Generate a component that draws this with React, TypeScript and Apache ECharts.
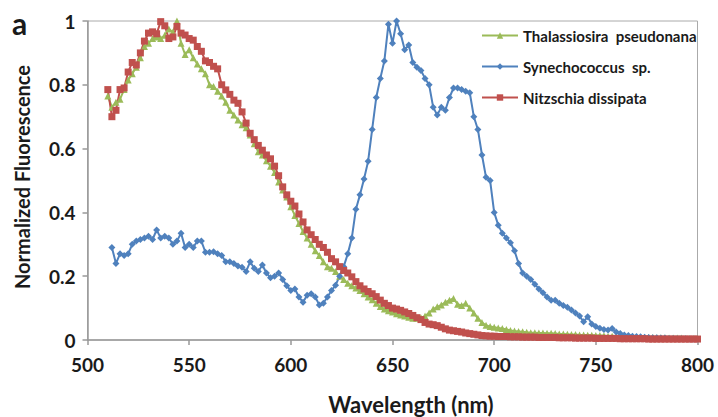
import React, { useEffect, useRef } from "react";
import * as echarts from "echarts";

const WL_FULL = [
  510, 512, 514, 516, 518, 520, 522, 524, 526, 528, 530, 532, 534, 536, 538, 540, 542, 544, 546, 548,
  550, 552, 554, 556, 558, 560, 562, 564, 566, 568, 570, 572, 574, 576, 578, 580, 582, 584, 586, 588,
  590, 592, 594, 596, 598, 600, 602, 604, 606, 608, 610, 612, 614, 616, 618, 620, 622, 624, 626, 628,
  630, 632, 634, 636, 638, 640, 642, 644, 646, 648, 650, 652, 654, 656, 658, 660, 662, 664, 666, 668,
  670, 672, 674, 676, 678, 680, 682, 684, 686, 688, 690, 692, 694, 696, 698, 700, 702, 704, 706, 708,
  710, 712, 714, 716, 718, 720, 722, 724, 726, 728, 730, 732, 734, 736, 738, 740, 742, 744, 746, 748,
  750, 752, 754, 756, 758, 760, 762, 764, 766, 768, 770, 772, 774, 776, 778, 780, 782, 784, 786, 788,
  790, 792, 794, 796, 798, 800,
];

const WL_SYN = [
  512, 514, 516, 518, 520, 522, 524, 526, 528, 530, 532, 534, 536, 538, 540, 542, 544, 546, 548,
  550, 552, 554, 556, 558, 560, 562, 564, 566, 568, 570, 572, 574, 576, 578, 580, 582, 584, 586, 588,
  590, 592, 594, 596, 598, 600, 602, 604, 606, 608, 610, 612, 614, 616, 618, 620, 622, 624, 626, 628,
  630, 632, 634, 636, 638, 640, 642, 644, 646, 648, 650, 652, 654, 656, 658, 660, 662, 664, 666, 668,
  670, 672, 674, 676, 678, 680, 682, 684, 686, 688, 690, 692, 694, 696, 698, 700, 702, 704, 706, 708,
  710, 712, 714, 716, 718, 720, 722, 724, 726, 728, 730, 732, 734, 736, 738, 740, 742, 744, 746, 748,
  750, 752, 754, 756, 758, 760, 762, 764, 766, 768, 770, 772, 774, 776, 778, 780, 782, 784, 786, 788,
  790, 792, 794, 796, 798, 800,
];

const THALASSIOSIRA = [
  0.765, 0.73, 0.745, 0.755, 0.785, 0.815, 0.835, 0.855, 0.885, 0.92,
  0.93, 0.945, 0.95, 0.945, 0.955, 0.975, 0.965, 1.0, 0.93, 0.895,
  0.91, 0.885, 0.865, 0.85, 0.835, 0.8, 0.795, 0.78, 0.765, 0.745,
  0.72, 0.705, 0.69, 0.675, 0.665, 0.643, 0.615, 0.59, 0.58, 0.562,
  0.545, 0.525, 0.495, 0.47, 0.448, 0.418,
  0.39, 0.365, 0.34, 0.32, 0.3, 0.28, 0.265, 0.245, 0.23, 0.225,
  0.215, 0.2, 0.19, 0.178, 0.17, 0.163, 0.155, 0.145, 0.135, 0.126,
  0.115, 0.105, 0.097, 0.092, 0.088, 0.082, 0.078, 0.075, 0.071, 0.068,
  0.068, 0.07, 0.075, 0.085, 0.097, 0.104, 0.11, 0.118, 0.125, 0.13,
  0.112, 0.108, 0.115, 0.1, 0.085, 0.068, 0.055, 0.046, 0.042, 0.04,
  0.038, 0.036, 0.033, 0.03, 0.028, 0.027, 0.026, 0.024, 0.023, 0.023,
  0.022, 0.022, 0.021, 0.021, 0.02, 0.019, 0.019, 0.018, 0.017, 0.017,
  0.016, 0.016, 0.015, 0.015, 0.014, 0.014, 0.013, 0.012, 0.012, 0.011,
  0.011, 0.01, 0.01, 0.009, 0.009, 0.009, 0.008, 0.008, 0.008, 0.007,
  0.007, 0.007, 0.006, 0.006, 0.006, 0.006, 0.005, 0.005, 0.005, 0.005,
];

const SYNECHOCOCCUS = [
  0.29, 0.24, 0.27, 0.265, 0.27, 0.3, 0.31, 0.315, 0.32, 0.325,
  0.315, 0.345, 0.32, 0.325, 0.32, 0.3, 0.31, 0.335, 0.29, 0.3,
  0.29, 0.31, 0.31, 0.275, 0.275, 0.277, 0.27, 0.265, 0.245, 0.245,
  0.24, 0.232, 0.228, 0.215, 0.245, 0.225, 0.215, 0.235, 0.21, 0.195,
  0.2, 0.21, 0.19, 0.17, 0.155,
  0.16, 0.135, 0.118, 0.14, 0.145, 0.135, 0.11, 0.115, 0.135, 0.155,
  0.172, 0.2, 0.23, 0.27, 0.32, 0.41, 0.455, 0.505, 0.56, 0.66,
  0.76, 0.82, 0.875, 0.99, 0.93, 1.0, 0.96, 0.91, 0.925, 0.87,
  0.855, 0.845, 0.82, 0.8, 0.73, 0.705, 0.73, 0.72, 0.76, 0.79,
  0.79, 0.785, 0.78, 0.775, 0.7, 0.66, 0.58, 0.51, 0.5, 0.4,
  0.36, 0.335, 0.32, 0.305, 0.28, 0.24, 0.21, 0.2, 0.19, 0.175,
  0.16, 0.148, 0.135, 0.125, 0.125, 0.115, 0.108, 0.103, 0.094, 0.085,
  0.075, 0.057, 0.073, 0.05, 0.042, 0.037, 0.033, 0.031, 0.036, 0.025,
  0.02, 0.016, 0.014, 0.012, 0.011, 0.01, 0.009, 0.008, 0.007, 0.007,
  0.006, 0.006, 0.005, 0.005, 0.004, 0.004, 0.004, 0.003, 0.003, 0.003,
];

const NITZSCHIA = [
  0.785, 0.7, 0.72, 0.785, 0.79, 0.84, 0.87, 0.862, 0.9, 0.937,
  0.962, 0.966, 0.96, 0.998, 0.985, 0.945, 0.95, 0.983, 0.962, 0.956,
  0.945, 0.94, 0.92, 0.905, 0.875, 0.87, 0.858, 0.85, 0.8, 0.784,
  0.77, 0.752, 0.742, 0.715, 0.68, 0.648, 0.628, 0.61, 0.595, 0.58,
  0.568, 0.545, 0.515, 0.48, 0.455, 0.435,
  0.42, 0.395, 0.37, 0.345, 0.33, 0.315, 0.3, 0.29, 0.275, 0.255,
  0.245, 0.23, 0.218, 0.21, 0.198, 0.183, 0.17, 0.16, 0.152, 0.145,
  0.136, 0.125, 0.115, 0.108, 0.1, 0.097, 0.093, 0.088, 0.083, 0.077,
  0.07, 0.064, 0.055, 0.05, 0.048, 0.045, 0.04, 0.035, 0.031, 0.029,
  0.027, 0.025, 0.022, 0.02, 0.018, 0.016, 0.014, 0.013, 0.012, 0.012,
  0.011, 0.011, 0.011, 0.01, 0.01, 0.01, 0.009, 0.009, 0.009, 0.009,
  0.008, 0.008, 0.008, 0.008, 0.008, 0.007, 0.007, 0.007, 0.007, 0.006,
  0.006, 0.006, 0.006, 0.006, 0.005, 0.005, 0.005, 0.005, 0.005, 0.005,
  0.004, 0.004, 0.004, 0.004, 0.004, 0.004, 0.004, 0.003, 0.003, 0.003,
  0.003, 0.003, 0.003, 0.003, 0.003, 0.003, 0.003, 0.003, 0.003, 0.003,
];

const SERIES_NAMES = ["Thalassiosira  pseudonana", "Synechococcus  sp.", "Nitzschia dissipata"];
const X_TITLE = "Wavelength (nm)";
const Y_TITLE = "Normalized Fluorescence";
const PANEL = "a";

const FONT = "Lato, 'Open Sans', sans-serif";

function pairs(xs: number[], ys: number[]) {
  return ys.map((y, i) => [xs[i], y]);
}

export default function App() {
  const ref = useRef<HTMLDivElement>(null);
  useEffect(() => {
    if (!ref.current) return;
    const chart = echarts.init(ref.current, null, { renderer: "svg" });
    const lineSeries = (name: string, data: number[][], color: string, symbol: string, size: number) => ({
      name,
      type: "line",
      data,
      symbol,
      symbolSize: size,
      showSymbol: true,
      itemStyle: { color },
      lineStyle: { color, width: 2 },
      emphasis: { disabled: true },
      z: 2,
    });
    chart.setOption({
      animation: false,
      backgroundColor: "#ffffff",
      grid: {
        left: 87.5,
        right: 20.5,
        top: 21,
        bottom: 77,
        show: true,
        borderColor: "#aaaaaa",
        borderWidth: 1,
      },
      legend: {
        orient: "vertical",
        left: 476,
        top: 23,
        itemWidth: 36,
        itemHeight: 8,
        itemGap: 16,
        data: SERIES_NAMES,
        textStyle: { fontFamily: FONT, fontSize: 15, fontWeight: "bold", color: "#1a1a1a" },
      },
      xAxis: {
        type: "value",
        min: 500,
        max: 800,
        interval: 50,
        splitLine: { show: false },
        axisLine: { lineStyle: { color: "#999999", width: 1.5 } },
        axisTick: { show: true, length: 5, lineStyle: { color: "#999999", width: 1.5 } },
        axisLabel: { fontFamily: FONT, fontSize: 19, fontWeight: "bold", color: "#1a1a1a", margin: 15 },
      },
      yAxis: {
        type: "value",
        min: 0,
        max: 1,
        interval: 0.2,
        splitLine: { show: false },
        axisLine: { show: true, lineStyle: { color: "#999999", width: 1.5 } },
        axisTick: { show: true, length: 5, lineStyle: { color: "#999999", width: 1.5 } },
        axisLabel: {
          fontFamily: FONT,
          fontSize: 19,
          fontWeight: "bold",
          color: "#1a1a1a",
          margin: 12,
          formatter: (v: number) => String(Math.round(v * 10) / 10),
        },
      },
      graphic: [
        {
          type: "text",
          x: 12,
          y: 38,
          style: {
            text: PANEL,
            font: `bold 30px ${FONT}`,
            fill: "#1a1a1a",
            textVerticalAlign: "bottom",
          },
        },
        {
          type: "text",
          x: 411,
          y: 404,
          style: {
            text: X_TITLE,
            font: `bold 22px ${FONT}`,
            fill: "#1a1a1a",
            textAlign: "center",
            textVerticalAlign: "middle",
          },
        },
        {
          type: "text",
          x: 22,
          y: 177,
          rotation: Math.PI / 2,
          style: {
            text: Y_TITLE,
            font: `bold 20px ${FONT}`,
            fill: "#1a1a1a",
            textAlign: "center",
            textVerticalAlign: "middle",
          },
        },
      ],
      series: [
        lineSeries(SERIES_NAMES[0], pairs(WL_FULL, THALASSIOSIRA), "#9BBB59", "triangle", 7),
        lineSeries(SERIES_NAMES[1], pairs(WL_SYN, SYNECHOCOCCUS), "#4F81BD", "diamond", 7),
        lineSeries(SERIES_NAMES[2], pairs(WL_FULL, NITZSCHIA), "#C0504D", "rect", 7),
      ],
    });
    return () => chart.dispose();
  }, []);
  return <div ref={ref} style={{ width: 718, height: 417, position: "absolute", left: 0, top: 0 }} />;
}
